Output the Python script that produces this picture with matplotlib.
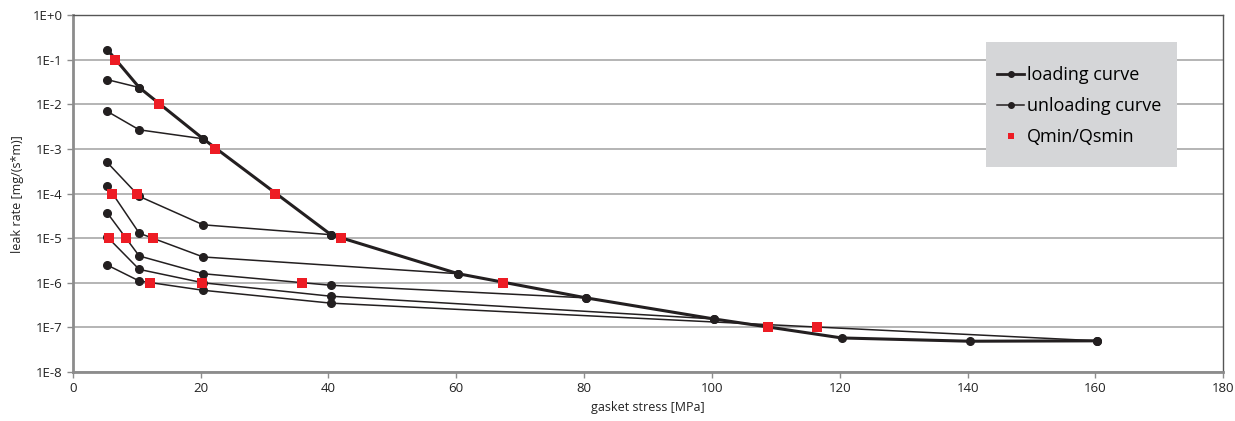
import matplotlib.pyplot as plt
from matplotlib.patches import Rectangle
from matplotlib.lines import Line2D
from matplotlib.ticker import FixedLocator, FixedFormatter, NullLocator

plt.rcParams['font.family'] = ['Open Sans', 'DejaVu Sans']

# loading curve
X_load = [5.4, 10.4, 20.4, 40.4, 60.3, 80.3, 100.3, 120.3, 140.3, 160.3]
Y_load = [1.7e-1, 2.4e-2, 1.7e-3, 1.2e-5, 1.6e-6, 4.6e-7, 1.55e-7, 5.8e-8, 4.9e-8, 5.0e-8]

# unloading curves (each ends on the loading curve)
X_unl_A = [5.4, 10.4]
Y_unl_A = [3.6e-2, 2.4e-2]
X_unl_B = [5.4, 10.4, 20.4]
Y_unl_B = [7.0e-3, 2.7e-3, 1.7e-3]
X_unl_C = [5.4, 10.4, 20.4, 40.4]
Y_unl_C = [5.0e-4, 8.7e-5, 2.0e-5, 1.2e-5]
X_unl_D = [5.4, 10.4, 20.4, 60.3]
Y_unl_D = [1.5e-4, 1.3e-5, 3.8e-6, 1.6e-6]
X_unl_E = [5.4, 10.4, 20.4, 40.4, 80.3]
Y_unl_E = [3.7e-5, 4.0e-6, 1.6e-6, 8.8e-7, 4.6e-7]
X_unl_F = [5.4, 10.4, 20.4, 40.4, 100.3]
Y_unl_F = [1.07e-5, 2.0e-6, 1.0e-6, 5.0e-7, 1.55e-7]
X_unl_G = [5.4, 10.4, 20.4, 40.4, 160.3]
Y_unl_G = [2.5e-6, 1.1e-6, 6.8e-7, 3.5e-7, 5.0e-8]

unloading = [(X_unl_A, Y_unl_A), (X_unl_B, Y_unl_B), (X_unl_C, Y_unl_C),
             (X_unl_D, Y_unl_D), (X_unl_E, Y_unl_E), (X_unl_F, Y_unl_F),
             (X_unl_G, Y_unl_G)]

# Qmin / Qsmin points
X_Q = [6.6, 13.5, 22.3, 31.7, 6.2, 10.1, 42.0, 5.7, 8.3, 12.6,
       12.1, 20.2, 35.9, 67.3, 108.8, 116.5]
Y_Q = [1e-1, 1e-2, 1e-3, 1e-4, 1e-4, 1e-4, 1e-5, 1e-5, 1e-5, 1e-5,
       1e-6, 1e-6, 1e-6, 1e-6, 1e-7, 1e-7]

Y_TICKS = [1e0, 1e-1, 1e-2, 1e-3, 1e-4, 1e-5, 1e-6, 1e-7, 1e-8]
Y_LABELS = ['1E+0', '1E-1', '1E-2', '1E-3', '1E-4', '1E-5', '1E-6', '1E-7', '1E-8']
X_TICKS = [0, 20, 40, 60, 80, 100, 120, 140, 160, 180]

BLACK = '#231f20'
RED = '#ed1c24'

fig = plt.figure(figsize=(12.35, 4.21), dpi=100)
ax = fig.add_axes([0.0589, 0.1164, 0.9316, 0.8473])

# curvas de descarga
for xs, ys in unloading:
    ax.plot(xs, ys, color=BLACK, linewidth=1.1, marker='o', markersize=5.5, zorder=3)

# curva de carga
ax.plot(X_load, Y_load, color=BLACK, linewidth=2.2, marker='o', markersize=5.5, zorder=4)

# Qmin/Qsmin
ax.plot(X_Q, Y_Q, linestyle='none', marker='s', markersize=6.5, color=RED,
        markeredgewidth=0, zorder=5)

ax.set_yscale('log')
ax.set_ylim(1e-8, 1e0)
ax.set_xlim(0, 180)
ax.yaxis.set_major_locator(FixedLocator(Y_TICKS))
ax.yaxis.set_major_formatter(FixedFormatter(Y_LABELS))
ax.yaxis.set_minor_locator(NullLocator())
ax.set_xticks(X_TICKS)

ax.grid(True, axis='y', color='#b4b4b4', linewidth=1.4)
ax.set_axisbelow(True)
for side in ['left', 'bottom']:
    ax.spines[side].set_color('#8c8c8c')
    ax.spines[side].set_linewidth(2)
for side in ['top', 'right']:
    ax.spines[side].set_color('#555555')
    ax.spines[side].set_linewidth(1)
ax.tick_params(axis='both', colors='#8c8c8c', labelcolor='#222222',
               labelsize=9.5, length=4, width=1)

ax.set_xlabel('gasket stress [MPa]', fontsize=9, color='#222222', labelpad=4)
ax.set_ylabel('leak rate [mg/(s*m)]', fontsize=9, color='#222222', labelpad=6)

# caja gris de la leyenda
ax.add_patch(Rectangle((0.7938, 0.5756), 0.166, 0.3504, transform=ax.transAxes,
                       facecolor='#d5d6d8', edgecolor='none', zorder=6))

handles = [
    Line2D([], [], color=BLACK, linewidth=2, marker='o', markersize=4),
    Line2D([], [], color=BLACK, linewidth=1.1, marker='o', markersize=4),
    Line2D([], [], color=RED, linestyle='none', marker='s', markersize=5, markeredgewidth=0),
]
leg = ax.legend(handles, ['loading curve', 'unloading curve', 'Qmin/Qsmin'],
                loc='upper left', bbox_to_anchor=(0.8033, 0.857), frameon=False,
                fontsize=13, handlelength=1.5, handletextpad=0.15,
                labelspacing=0.72, borderpad=0, borderaxespad=0)
leg.set_zorder(7)

plt.savefig('out.png', dpi=100)
